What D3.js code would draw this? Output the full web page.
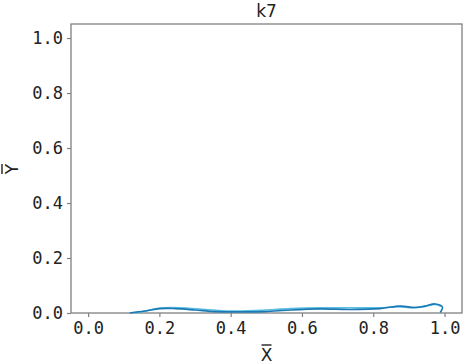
<!DOCTYPE html>
<html>
<head>
<meta charset="utf-8">
<script src="https://cdn.jsdelivr.net/npm/d3@7/dist/d3.min.js"></script>
<style>
  body { margin: 0; background: #fff; }
  svg text { fill: #222; }
</style>
</head>
<body>
<div id="chart"></div>
<script>
// curve: two nearly coincident branches of a thin loop
const lowerX = [0.117, 0.159, 0.201, 0.244, 0.300, 0.356, 0.426, 0.496, 0.567, 0.651, 0.735, 0.819, 0.876, 0.917, 0.945, 0.974, 0.994, 0.988];
const lowerY = [0.000, 0.007, 0.016, 0.016, 0.011, 0.005, 0.004, 0.005, 0.011, 0.015, 0.013, 0.016, 0.025, 0.020, 0.025, 0.033, 0.022, 0.002];
const upperX = [0.131, 0.170, 0.201, 0.258, 0.328, 0.398, 0.482, 0.567, 0.651, 0.735, 0.819, 0.870, 0.910, 0.945, 0.974, 0.990];
const upperY = [0.000, 0.010, 0.018, 0.019, 0.013, 0.007, 0.010, 0.016, 0.019, 0.019, 0.019, 0.023, 0.019, 0.024, 0.031, 0.024];
const xTicks = [0.0, 0.2, 0.4, 0.6, 0.8, 1.0];
const yTicks = [0.0, 0.2, 0.4, 0.6, 0.8, 1.0];
const titleText = 'k7';
const xLabel = 'X';
const yLabel = 'Y';

const W = 466, H = 364;
const margin = { top: 24, right: 4, bottom: 51, left: 71 };
const innerW = W - margin.left - margin.right;
const innerH = H - margin.top - margin.bottom;
const tickFont = '"DejaVu Sans Mono", monospace';

const svg = d3.select('#chart').append('svg')
  .attr('width', W)
  .attr('height', H);

const x = d3.scaleLinear().domain([-0.048, 1.049]).range([0, innerW]);
const y = d3.scaleLinear().domain([0, 1.051]).range([innerH, 0]);

const g = svg.append('g')
  .attr('transform', `translate(${margin.left},${margin.top})`);

// frame
g.append('rect')
  .attr('width', innerW)
  .attr('height', innerH)
  .attr('fill', 'none')
  .attr('stroke', '#808080')
  .attr('stroke-width', 1.3);

const xAxis = g.append('g')
  .attr('transform', `translate(0,${innerH})`)
  .call(d3.axisBottom(x).tickValues(xTicks).tickSize(4).tickPadding(5).tickFormat(d3.format('.1f')));
const yAxis = g.append('g')
  .call(d3.axisLeft(y).tickValues(yTicks).tickSize(4).tickPadding(4).tickFormat(d3.format('.1f')));

[xAxis, yAxis].forEach((a) => {
  a.select('.domain').remove();
  a.selectAll('line').attr('stroke', '#808080').attr('stroke-width', 1.2);
  a.selectAll('text')
    .style('font-family', tickFont)
    .style('font-size', '17px')
    .attr('fill', '#222');
});

// curves
const line = d3.line()
  .x(d => x(d[0]))
  .y(d => y(d[1]))
  .curve(d3.curveCatmullRom.alpha(0.5));

const upper = upperX.map((v, i) => [v, upperY[i]]);
const lower = lowerX.map((v, i) => [v, lowerY[i]]);

g.append('path')
  .datum(upper)
  .attr('d', line)
  .attr('fill', 'none')
  .attr('stroke', '#5bbde0')
  .attr('stroke-width', 1.6);

g.append('path')
  .datum(lower)
  .attr('d', line)
  .attr('fill', 'none')
  .attr('stroke', '#1a7ab5')
  .attr('stroke-width', 1.6);

// title
svg.append('text')
  .attr('x', margin.left + innerW / 2)
  .attr('y', 17)
  .attr('text-anchor', 'middle')
  .style('font-family', '"DejaVu Sans", sans-serif')
  .style('font-size', '17px')
  .text(titleText);

// x label with overline
const xl = svg.append('g')
  .attr('transform', `translate(${margin.left + innerW / 2},361)`);
xl.append('text')
  .attr('text-anchor', 'middle')
  .style('font-family', '"DejaVu Sans", sans-serif')
  .style('font-size', '17px')
  .text(xLabel);
xl.append('line')
  .attr('x1', -5).attr('x2', 5)
  .attr('y1', -16).attr('y2', -16)
  .attr('stroke', '#222')
  .attr('stroke-width', 1.4);

// y label with overline, rotated
const yl = svg.append('g')
  .attr('transform', 'translate(18,169) rotate(-90)');
yl.append('text')
  .attr('text-anchor', 'middle')
  .style('font-family', '"DejaVu Sans", sans-serif')
  .style('font-size', '17px')
  .text(yLabel);
yl.append('line')
  .attr('x1', -5).attr('x2', 5)
  .attr('y1', -16).attr('y2', -16)
  .attr('stroke', '#222')
  .attr('stroke-width', 1.4);
</script>
</body>
</html>
